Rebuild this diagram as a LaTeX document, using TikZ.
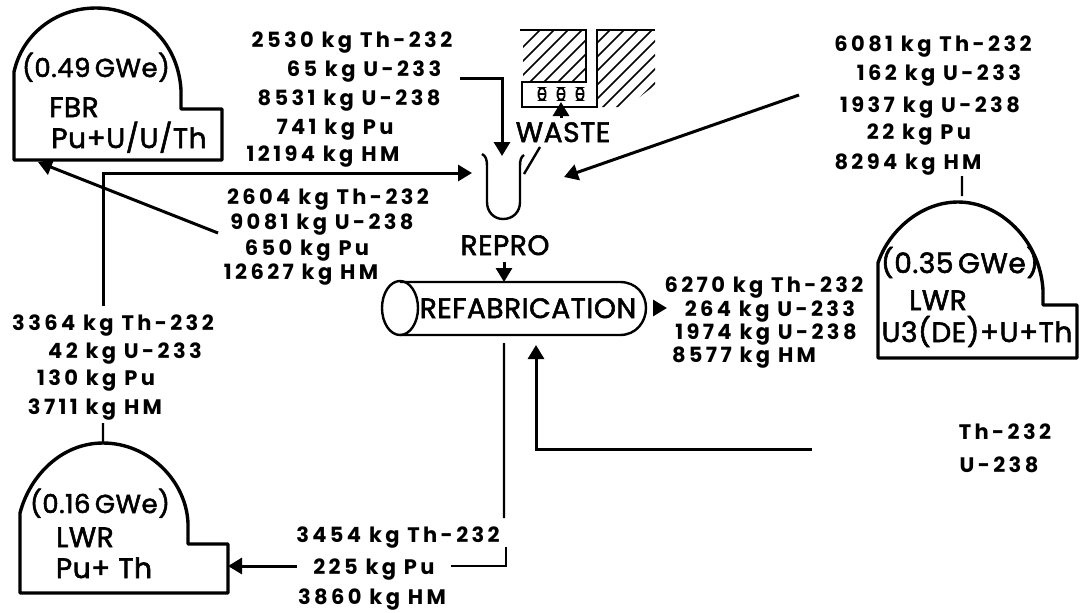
\documentclass[tikz,border=0pt]{standalone}
\usepackage{fontspec}
\setmainfont{Poppins}[LetterSpace=16]
\newfontfamily\bigfont{Poppins}[FakeBold=2,LetterSpace=2]
\usetikzlibrary{arrows.meta}
\tikzset{
	massline/.style={inner sep=0pt, anchor=center, text height=7.5pt, text depth=0pt, font=\bfseries\fontsize{10.5}{12}\selectfont},
	domelabel/.style={inner sep=0pt, anchor=center, text height=10pt, text depth=0pt, font=\bigfont\fontsize{14}{16}\selectfont},
	powerlabel/.style={domelabel, font=\bigfont\fontsize{13}{15}\selectfont},
	domeline/.style={line width=1.7pt, line join=round},
	flow/.style={line width=1.5pt, -{Triangle[length=7pt,width=8pt]}},
	plainflow/.style={line width=1.2pt},
	hatchline/.style={line width=.8pt}
}
\begin{document}
\begin{tikzpicture}[x=.5pt, y=-.5pt]
		\useasboundingbox (0,0) rectangle (1080,612);
		
		\foreach \n/\x/\y/\t in {
			a1/352/40/{2530 kg Th-232}, a2/364/69/{65 kg U-233}, a3/349/98/{8531 kg U-238}, a4/335/127/{741 kg Pu}, a5/323/154/{12194 kg HM},
			b1/328/197/{2604 kg Th-232}, b2/322/222/{9081 kg U-238}, b3/307/248/{650 kg Pu}, b4/301/272/{12627 kg HM},
			c1/933/44/{6081 kg Th-232}, c2/939/73/{162 kg U-233}, c3/930/105/{1937 kg U-238}, c4/919/132/{22 kg Pu}, c5/908/162/{8294 kg HM},
			d1/764/285/{6270 kg Th-232}, d2/770/309/{264 kg U-233}, d3/766/332/{1974 kg U-238}, d4/744/355/{8577 kg HM},
			e1/113/323/{3364 kg Th-232}, e2/125/351/{42 kg U-233}, e3/96/378/{130 kg Pu}, e4/95/407/{3711 kg HM},
			f1/398/535/{3454 kg Th-232}, f2/374/567/{225 kg Pu}, f3/372/597/{3860 kg HM},
			g1/1005/432/{Th-232}, g2/999/465/{U-238}}
			\node[massline] (\n) at (\x,\y) {\t};
		
		\node[powerlabel] (fbrPower) at (96,67) {(0.49\,GWe)};
		\node[domelabel] (fbrName) at (74,107) {FBR};
		\node[domelabel] (fbrFuel) at (129,138) {Pu+U/U/Th};
		\node[domelabel] (lwrAPower) at (960,263) {(0.35\,GWe)};
		\node[domelabel] (lwrAName) at (938,300) {LWR};
		\node[domelabel] (lwrAFuel) at (977,332) {U3(DE)+U+Th};
		\node[powerlabel] (lwrBPower) at (100,503) {(0.16\,GWe)};
		\node[domelabel] (lwrBName) at (85,537) {LWR};
		\node[domelabel] (lwrBFuel) at (104,568) {Pu+ Th};
		\node[domelabel] (waste) at (563,132) {WASTE};
		\node[domelabel] (repro) at (505,245) {REPRO};
		\node[domelabel] (refab) at (528,308) {REFABRICATION};
		
		\draw[domeline] (14,160) -- (14,72) .. controls (22,35) and (55,8) .. (96,8) .. controls (140,8) and (178,40) .. (181,90) -- (181,109) -- (222,109) -- (222,160) -- cycle;
		\draw[domeline] (878,358) -- (878,263) .. controls (888,232) and (920,202) .. (958,202) .. controls (1000,202) and (1040,240) .. (1043,290) -- (1043,305) -- (1077,305) -- (1077,358) -- cycle;
		\draw[domeline] (20,593) -- (20,513) .. controls (30,475) and (62,443) .. (103,443) .. controls (148,443) and (186,480) .. (188,523) -- (188,544) -- (228,544) -- (228,593) -- cycle;
		
		\draw[line width=1.2pt] (400,282) -- (620,282) .. controls (636,282) and (646,294) .. (646,308) .. controls (646,322) and (636,335) .. (620,335) -- (400,335);
		\draw[line width=1.2pt] (400,308) ellipse [x radius=18, y radius=27];
		
		\draw[line width=1.2pt] (482,154) .. controls (486,156) and (487,160) .. (487,166) -- (487,202) .. controls (487,212) and (494,219) .. (503,219) .. controls (513,219) and (520,212) .. (520,202) -- (520,166) .. controls (520,160) and (521,157) .. (524,155);
		
		\draw[line width=1.2pt] (520,30) -- (586,30) -- (586,82) -- (522,82) -- (522,107) -- (597,107) -- (597,30) -- (655,30);
		\begin{scope}
			\clip (523,31) rectangle (585,81);
			\foreach \s in {540,554,...,680}
				\draw[hatchline] (\s,30) -- ++(-65,65);
		\end{scope}
		\begin{scope}
			\clip (598,31) -- (655,31) -- (655,85) -- (627,107) -- (598,107) -- cycle;
			\foreach \s in {610,624,...,750}
				\draw[hatchline] (\s,30) -- ++(-90,90);
		\end{scope}
		\foreach \x in {542,561,580}
			\draw[line width=.9pt, rounded corners=2pt] ([xshift=-1.7pt]\x,88) rectangle ([xshift=1.7pt]\x,100) ([xshift=-1.7pt]\x,94) -- ([xshift=1.7pt]\x,94);
		
		\foreach \n/\x/\y in {
			aEnd/460/78, aCorner/502/78, aTip/502/156, toTube/103/173, tubeTip/472/173, fromE/103/306,
			bEnd/218/233, fbrTip/38/162, cEnd/799/95, cTip/564/177,
			cTick/962/176, lwrATop/962/196, eTick/103/423, lwrBTop/103/443,
			wasteStart/561/118, wasteTip/561/102, slashTop/540/147, slashEnd/524/174,
			reproEnd/504/262, refabTop/504/282, refabRight/653/308, dStart/667/308,
			downStart/504/343, downEnd/504/518, upTip/536/345, upCorner/536/449, upEnd/812/449,
			fLeft/297/566, lwrBRight/228/566, fRight/451/566, fCorner/506/566, fTop/506/547}
			\coordinate (\n) at (\x,\y);
		
		\draw[flow] (aEnd) -- (aCorner) -- (aTip);
		\draw[flow] (fromE) -- (toTube) -- (tubeTip);
		\draw[flow] (bEnd) -- (fbrTip);
		\draw[flow] (cEnd) -- (cTip);
		\draw[plainflow] (cTick) -- (lwrATop) (eTick) -- (lwrBTop) (slashTop) -- (slashEnd) (downStart) -- (downEnd);
		\draw[flow] (wasteStart) -- (wasteTip);
		\draw[flow] (reproEnd) -- (refabTop);
		\draw[flow] (refabRight) -- (dStart);
		\draw[flow] (upEnd) -- (upCorner) -- (upTip);
		\draw[flow] (fLeft) -- (lwrBRight);
		\draw[plainflow] (fRight) -- (fCorner) -- (fTop);
		\end{tikzpicture}
\end{document}
